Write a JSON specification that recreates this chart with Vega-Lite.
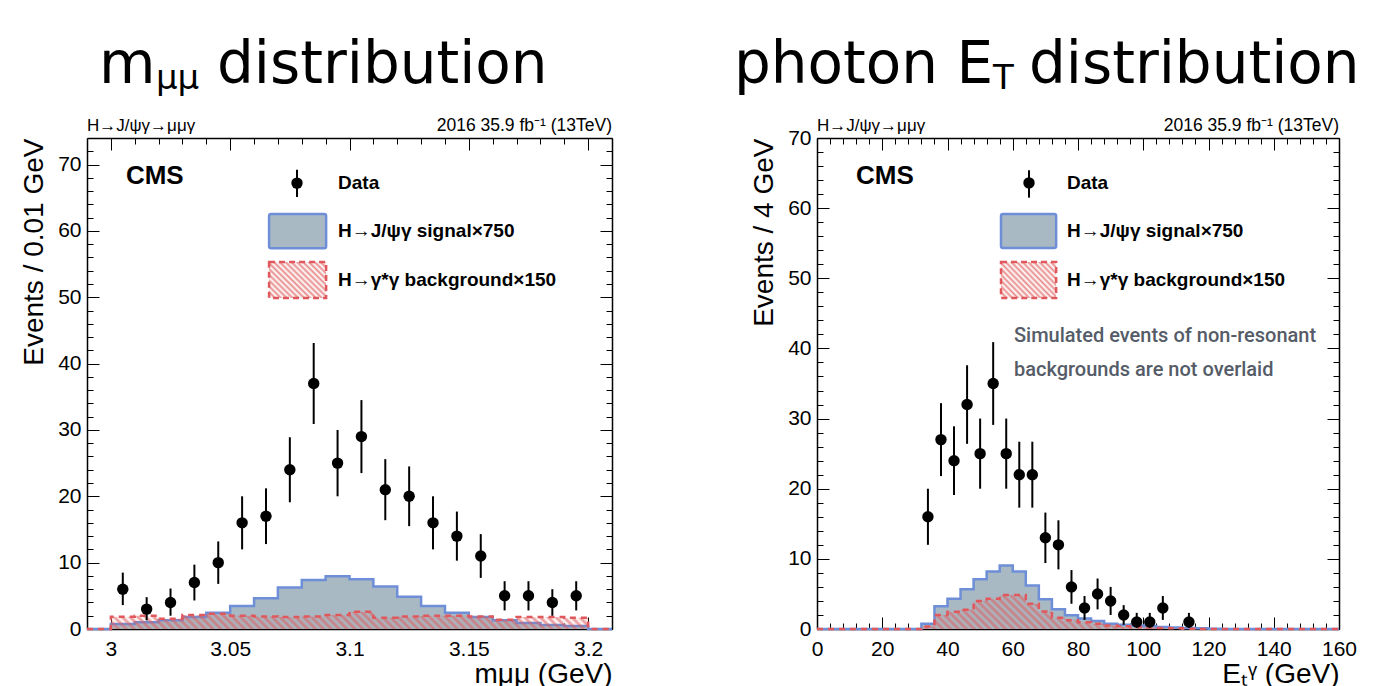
{
"$schema": "https://vega.github.io/schema/vega-lite/v6.json",
"background": "white",
"padding": {"left": 20, "top": 36, "right": 5, "bottom": 5},
"spacing": 117,
"config": {
  "view": {"stroke": null},
  "axis": {"grid": false, "tickColor": "#000000", "tickWidth": 1, "domainColor": "#000000", "domainWidth": 1.5, "labelColor": "#000000", "labelFont": "Liberation Sans", "labelFontSize": 21, "labelFlush": false, "labelOverlap": false, "titleColor": "#000000", "titleFont": "Liberation Sans", "titleFontSize": 28, "titleFontWeight": "normal"},
  "text": {"font": "Liberation Sans", "color": "#000000"}
},
"datasets": {
  "m_hist": [
    {"edge": 2.99, "signal": 0, "background": 0},
    {"edge": 3.00, "signal": 0.75, "background": 1.85},
    {"edge": 3.01, "signal": 1.0, "background": 2.0},
    {"edge": 3.02, "signal": 1.3, "background": 1.55},
    {"edge": 3.03, "signal": 1.8, "background": 2.1},
    {"edge": 3.04, "signal": 2.45, "background": 2.3},
    {"edge": 3.05, "signal": 3.45, "background": 2.0},
    {"edge": 3.06, "signal": 4.65, "background": 1.9},
    {"edge": 3.07, "signal": 6.25, "background": 1.8},
    {"edge": 3.08, "signal": 7.4, "background": 1.9},
    {"edge": 3.09, "signal": 7.95, "background": 2.1},
    {"edge": 3.10, "signal": 7.5, "background": 2.6},
    {"edge": 3.11, "signal": 6.4, "background": 1.7},
    {"edge": 3.12, "signal": 4.85, "background": 1.9},
    {"edge": 3.13, "signal": 3.45, "background": 2.0},
    {"edge": 3.14, "signal": 2.45, "background": 2.0},
    {"edge": 3.15, "signal": 1.8, "background": 1.9},
    {"edge": 3.16, "signal": 1.3, "background": 1.4},
    {"edge": 3.17, "signal": 0.9, "background": 1.8},
    {"edge": 3.18, "signal": 0.6, "background": 1.8},
    {"edge": 3.19, "signal": 0.45, "background": 1.7},
    {"edge": 3.20, "signal": 0, "background": 0},
    {"edge": 3.21, "signal": 0, "background": 0}
  ],
  "m_data": [
    {"x": 3.005, "n": 6, "lo": 3.6, "hi": 8.5},
    {"x": 3.015, "n": 3, "lo": 1.3, "hi": 4.8},
    {"x": 3.025, "n": 4, "lo": 2.0, "hi": 6.1},
    {"x": 3.035, "n": 7, "lo": 4.3, "hi": 9.7},
    {"x": 3.045, "n": 10, "lo": 6.8, "hi": 13.2},
    {"x": 3.055, "n": 16, "lo": 12.0, "hi": 20.0},
    {"x": 3.065, "n": 17, "lo": 12.8, "hi": 21.2},
    {"x": 3.075, "n": 24, "lo": 19.1, "hi": 28.9},
    {"x": 3.085, "n": 37, "lo": 30.9, "hi": 43.1},
    {"x": 3.095, "n": 25, "lo": 20.0, "hi": 30.0},
    {"x": 3.105, "n": 29, "lo": 23.5, "hi": 34.5},
    {"x": 3.115, "n": 21, "lo": 16.4, "hi": 25.6},
    {"x": 3.125, "n": 20, "lo": 15.5, "hi": 24.5},
    {"x": 3.135, "n": 16, "lo": 12.0, "hi": 20.0},
    {"x": 3.145, "n": 14, "lo": 10.3, "hi": 17.7},
    {"x": 3.155, "n": 11, "lo": 7.7, "hi": 14.3},
    {"x": 3.165, "n": 5, "lo": 2.8, "hi": 7.2},
    {"x": 3.175, "n": 5, "lo": 2.8, "hi": 7.2},
    {"x": 3.185, "n": 4, "lo": 2.0, "hi": 6.0},
    {"x": 3.195, "n": 5, "lo": 2.8, "hi": 7.2}
  ],
  "e_hist": [
    {"edge": 0, "signal": 0, "background": 0},
    {"edge": 4, "signal": 0, "background": 0},
    {"edge": 8, "signal": 0, "background": 0},
    {"edge": 12, "signal": 0, "background": 0},
    {"edge": 16, "signal": 0, "background": 0},
    {"edge": 20, "signal": 0, "background": 0},
    {"edge": 24, "signal": 0, "background": 0},
    {"edge": 28, "signal": 0, "background": 0},
    {"edge": 32, "signal": 0.75, "background": 0.35},
    {"edge": 36, "signal": 3.25, "background": 2.0},
    {"edge": 40, "signal": 4.3, "background": 2.45},
    {"edge": 44, "signal": 5.65, "background": 2.75},
    {"edge": 48, "signal": 7.1, "background": 4.0},
    {"edge": 52, "signal": 8.2, "background": 4.3},
    {"edge": 56, "signal": 9.05, "background": 4.85},
    {"edge": 60, "signal": 8.2, "background": 4.85},
    {"edge": 64, "signal": 6.2, "background": 3.6},
    {"edge": 68, "signal": 4.25, "background": 2.5},
    {"edge": 72, "signal": 2.8, "background": 1.6},
    {"edge": 76, "signal": 1.95, "background": 1.25},
    {"edge": 80, "signal": 1.5, "background": 0.95},
    {"edge": 84, "signal": 1.15, "background": 0.75},
    {"edge": 88, "signal": 0.75, "background": 0.5},
    {"edge": 92, "signal": 0.6, "background": 0.4},
    {"edge": 96, "signal": 0.5, "background": 0.3},
    {"edge": 100, "signal": 0.42, "background": 0.2},
    {"edge": 104, "signal": 0.3, "background": 0.15},
    {"edge": 108, "signal": 0.22, "background": 0.1},
    {"edge": 112, "signal": 0.15, "background": 0.05},
    {"edge": 116, "signal": 0.1, "background": 0},
    {"edge": 120, "signal": 0.05, "background": 0},
    {"edge": 124, "signal": 0, "background": 0},
    {"edge": 128, "signal": 0, "background": 0},
    {"edge": 132, "signal": 0, "background": 0},
    {"edge": 136, "signal": 0, "background": 0},
    {"edge": 140, "signal": 0, "background": 0},
    {"edge": 144, "signal": 0, "background": 0},
    {"edge": 148, "signal": 0, "background": 0},
    {"edge": 152, "signal": 0, "background": 0},
    {"edge": 156, "signal": 0, "background": 0},
    {"edge": 160, "signal": 0, "background": 0}
  ],
  "e_data": [
    {"x": 34, "n": 16, "lo": 12.0, "hi": 20.0},
    {"x": 38, "n": 27, "lo": 21.8, "hi": 32.2},
    {"x": 42, "n": 24, "lo": 19.1, "hi": 28.9},
    {"x": 46, "n": 32, "lo": 26.4, "hi": 37.6},
    {"x": 50, "n": 25, "lo": 20.0, "hi": 30.0},
    {"x": 54, "n": 35, "lo": 29.1, "hi": 40.9},
    {"x": 58, "n": 25, "lo": 20.0, "hi": 30.0},
    {"x": 62, "n": 22, "lo": 17.3, "hi": 26.7},
    {"x": 66, "n": 22, "lo": 17.3, "hi": 26.7},
    {"x": 70, "n": 13, "lo": 9.4, "hi": 16.6},
    {"x": 74, "n": 12, "lo": 8.5, "hi": 15.5},
    {"x": 78, "n": 6, "lo": 3.6, "hi": 8.4},
    {"x": 82, "n": 3, "lo": 1.3, "hi": 4.7},
    {"x": 86, "n": 5, "lo": 2.8, "hi": 7.2},
    {"x": 90, "n": 4, "lo": 2.0, "hi": 6.0},
    {"x": 94, "n": 2, "lo": 0.6, "hi": 3.4},
    {"x": 98, "n": 1, "lo": 0.2, "hi": 2.3},
    {"x": 102, "n": 1, "lo": 0.2, "hi": 2.3},
    {"x": 106, "n": 3, "lo": 1.3, "hi": 4.7},
    {"x": 114, "n": 1, "lo": 0.2, "hi": 2.3}
  ]
},
"hconcat": [
{
  "width": 525, "height": 491,
  "resolve": {"axis": {"x": "independent", "y": "independent"}},
  "layer": [
    {"data": {"name": "m_hist"}, "mark": {"type": "area", "interpolate": "step-after", "color": "#a9b9c4", "opacity": 1},
     "encoding": {
       "x": {"field": "edge", "type": "quantitative", "scale": {"domain": [2.99, 3.21], "nice": false, "zero": false},
             "axis": {"orient": "bottom", "values": [3, 3.05, 3.1, 3.15, 3.2], "format": "~g", "tickSize": -12, "labelPadding": 21, "title": "mμμ (GeV)", "titleAnchor": "end", "titlePadding": 1}},
       "y": {"field": "signal", "type": "quantitative", "scale": {"domain": [0, 74], "nice": false, "zero": false},
             "axis": {"orient": "left", "values": [0, 10, 20, 30, 40, 50, 60, 70], "tickSize": -12, "labelPadding": 18, "title": "Events / 0.01 GeV", "titleAnchor": "end", "titlePadding": 9}}}},
    {"data": {"name": "m_hist"}, "mark": {"type": "line", "interpolate": "step-after", "color": "#6e8fd8", "strokeWidth": 2.5},
     "encoding": {
       "x": {"field": "edge", "type": "quantitative", "scale": {"domain": [2.99, 3.21], "nice": false, "zero": false},
             "axis": {"orient": "bottom", "values": [2.99, 3, 3.01, 3.02, 3.03, 3.04, 3.05, 3.06, 3.07, 3.08, 3.09, 3.1, 3.11, 3.12, 3.13, 3.14, 3.15, 3.16, 3.17, 3.18, 3.19, 3.2, 3.21], "tickSize": -6, "labels": false, "domain": false, "title": null}},
       "y": {"field": "signal", "type": "quantitative", "scale": {"domain": [0, 74], "nice": false, "zero": false},
             "axis": {"orient": "left", "values": [0, 2, 4, 6, 8, 10, 12, 14, 16, 18, 20, 22, 24, 26, 28, 30, 32, 34, 36, 38, 40, 42, 44, 46, 48, 50, 52, 54, 56, 58, 60, 62, 64, 66, 68, 70, 72], "tickSize": -6, "labels": false, "domain": false, "title": null}}}},
    {"data": {"name": "m_hist"}, "mark": {"type": "area", "interpolate": "step-after", "fill": {"gradient": "linear", "x1": 0, "y1": 1, "x2": 1, "y2": 0.967, "stops": [
{"offset":0,"color":"rgba(222,92,92,0.65)"},{"offset":0.0075,"color":"rgba(222,92,92,0)"},
{"offset":0.015,"color":"rgba(222,92,92,0.65)"},{"offset":0.0225,"color":"rgba(222,92,92,0)"},
{"offset":0.03,"color":"rgba(222,92,92,0.65)"},{"offset":0.0375,"color":"rgba(222,92,92,0)"},
{"offset":0.045,"color":"rgba(222,92,92,0.65)"},{"offset":0.0525,"color":"rgba(222,92,92,0)"},
{"offset":0.06,"color":"rgba(222,92,92,0.65)"},{"offset":0.0675,"color":"rgba(222,92,92,0)"},
{"offset":0.075,"color":"rgba(222,92,92,0.65)"},{"offset":0.0825,"color":"rgba(222,92,92,0)"},
{"offset":0.09,"color":"rgba(222,92,92,0.65)"},{"offset":0.0975,"color":"rgba(222,92,92,0)"},
{"offset":0.105,"color":"rgba(222,92,92,0.65)"},{"offset":0.1125,"color":"rgba(222,92,92,0)"},
{"offset":0.12,"color":"rgba(222,92,92,0.65)"},{"offset":0.1275,"color":"rgba(222,92,92,0)"},
{"offset":0.135,"color":"rgba(222,92,92,0.65)"},{"offset":0.1425,"color":"rgba(222,92,92,0)"},
{"offset":0.15,"color":"rgba(222,92,92,0.65)"},{"offset":0.1575,"color":"rgba(222,92,92,0)"},
{"offset":0.165,"color":"rgba(222,92,92,0.65)"},{"offset":0.1725,"color":"rgba(222,92,92,0)"},
{"offset":0.18,"color":"rgba(222,92,92,0.65)"},{"offset":0.1875,"color":"rgba(222,92,92,0)"},
{"offset":0.195,"color":"rgba(222,92,92,0.65)"},{"offset":0.2025,"color":"rgba(222,92,92,0)"},
{"offset":0.21,"color":"rgba(222,92,92,0.65)"},{"offset":0.2175,"color":"rgba(222,92,92,0)"},
{"offset":0.225,"color":"rgba(222,92,92,0.65)"},{"offset":0.2325,"color":"rgba(222,92,92,0)"},
{"offset":0.24,"color":"rgba(222,92,92,0.65)"},{"offset":0.2475,"color":"rgba(222,92,92,0)"},
{"offset":0.255,"color":"rgba(222,92,92,0.65)"},{"offset":0.2625,"color":"rgba(222,92,92,0)"},
{"offset":0.27,"color":"rgba(222,92,92,0.65)"},{"offset":0.2775,"color":"rgba(222,92,92,0)"},
{"offset":0.285,"color":"rgba(222,92,92,0.65)"},{"offset":0.2925,"color":"rgba(222,92,92,0)"},
{"offset":0.3,"color":"rgba(222,92,92,0.65)"},{"offset":0.3075,"color":"rgba(222,92,92,0)"},
{"offset":0.315,"color":"rgba(222,92,92,0.65)"},{"offset":0.3225,"color":"rgba(222,92,92,0)"},
{"offset":0.33,"color":"rgba(222,92,92,0.65)"},{"offset":0.3375,"color":"rgba(222,92,92,0)"},
{"offset":0.345,"color":"rgba(222,92,92,0.65)"},{"offset":0.3525,"color":"rgba(222,92,92,0)"},
{"offset":0.36,"color":"rgba(222,92,92,0.65)"},{"offset":0.3675,"color":"rgba(222,92,92,0)"},
{"offset":0.375,"color":"rgba(222,92,92,0.65)"},{"offset":0.3825,"color":"rgba(222,92,92,0)"},
{"offset":0.39,"color":"rgba(222,92,92,0.65)"},{"offset":0.3975,"color":"rgba(222,92,92,0)"},
{"offset":0.405,"color":"rgba(222,92,92,0.65)"},{"offset":0.4125,"color":"rgba(222,92,92,0)"},
{"offset":0.42,"color":"rgba(222,92,92,0.65)"},{"offset":0.4275,"color":"rgba(222,92,92,0)"},
{"offset":0.435,"color":"rgba(222,92,92,0.65)"},{"offset":0.4425,"color":"rgba(222,92,92,0)"},
{"offset":0.45,"color":"rgba(222,92,92,0.65)"},{"offset":0.4575,"color":"rgba(222,92,92,0)"},
{"offset":0.465,"color":"rgba(222,92,92,0.65)"},{"offset":0.4725,"color":"rgba(222,92,92,0)"},
{"offset":0.48,"color":"rgba(222,92,92,0.65)"},{"offset":0.4875,"color":"rgba(222,92,92,0)"},
{"offset":0.495,"color":"rgba(222,92,92,0.65)"},{"offset":0.5025,"color":"rgba(222,92,92,0)"},
{"offset":0.51,"color":"rgba(222,92,92,0.65)"},{"offset":0.5175,"color":"rgba(222,92,92,0)"},
{"offset":0.525,"color":"rgba(222,92,92,0.65)"},{"offset":0.5325,"color":"rgba(222,92,92,0)"},
{"offset":0.54,"color":"rgba(222,92,92,0.65)"},{"offset":0.5475,"color":"rgba(222,92,92,0)"},
{"offset":0.555,"color":"rgba(222,92,92,0.65)"},{"offset":0.5625,"color":"rgba(222,92,92,0)"},
{"offset":0.57,"color":"rgba(222,92,92,0.65)"},{"offset":0.5775,"color":"rgba(222,92,92,0)"},
{"offset":0.585,"color":"rgba(222,92,92,0.65)"},{"offset":0.5925,"color":"rgba(222,92,92,0)"},
{"offset":0.6,"color":"rgba(222,92,92,0.65)"},{"offset":0.6075,"color":"rgba(222,92,92,0)"},
{"offset":0.615,"color":"rgba(222,92,92,0.65)"},{"offset":0.6225,"color":"rgba(222,92,92,0)"},
{"offset":0.63,"color":"rgba(222,92,92,0.65)"},{"offset":0.6375,"color":"rgba(222,92,92,0)"},
{"offset":0.645,"color":"rgba(222,92,92,0.65)"},{"offset":0.6525,"color":"rgba(222,92,92,0)"},
{"offset":0.66,"color":"rgba(222,92,92,0.65)"},{"offset":0.6675,"color":"rgba(222,92,92,0)"},
{"offset":0.675,"color":"rgba(222,92,92,0.65)"},{"offset":0.6825,"color":"rgba(222,92,92,0)"},
{"offset":0.69,"color":"rgba(222,92,92,0.65)"},{"offset":0.6975,"color":"rgba(222,92,92,0)"},
{"offset":0.705,"color":"rgba(222,92,92,0.65)"},{"offset":0.7125,"color":"rgba(222,92,92,0)"},
{"offset":0.72,"color":"rgba(222,92,92,0.65)"},{"offset":0.7275,"color":"rgba(222,92,92,0)"},
{"offset":0.735,"color":"rgba(222,92,92,0.65)"},{"offset":0.7425,"color":"rgba(222,92,92,0)"},
{"offset":0.75,"color":"rgba(222,92,92,0.65)"},{"offset":0.7575,"color":"rgba(222,92,92,0)"},
{"offset":0.765,"color":"rgba(222,92,92,0.65)"},{"offset":0.7725,"color":"rgba(222,92,92,0)"},
{"offset":0.78,"color":"rgba(222,92,92,0.65)"},{"offset":0.7875,"color":"rgba(222,92,92,0)"},
{"offset":0.795,"color":"rgba(222,92,92,0.65)"},{"offset":0.8025,"color":"rgba(222,92,92,0)"},
{"offset":0.81,"color":"rgba(222,92,92,0.65)"},{"offset":0.8175,"color":"rgba(222,92,92,0)"},
{"offset":0.825,"color":"rgba(222,92,92,0.65)"},{"offset":0.8325,"color":"rgba(222,92,92,0)"},
{"offset":0.84,"color":"rgba(222,92,92,0.65)"},{"offset":0.8475,"color":"rgba(222,92,92,0)"},
{"offset":0.855,"color":"rgba(222,92,92,0.65)"},{"offset":0.8625,"color":"rgba(222,92,92,0)"},
{"offset":0.87,"color":"rgba(222,92,92,0.65)"},{"offset":0.8775,"color":"rgba(222,92,92,0)"},
{"offset":0.885,"color":"rgba(222,92,92,0.65)"},{"offset":0.8925,"color":"rgba(222,92,92,0)"},
{"offset":0.9,"color":"rgba(222,92,92,0.65)"},{"offset":0.9075,"color":"rgba(222,92,92,0)"},
{"offset":0.915,"color":"rgba(222,92,92,0.65)"},{"offset":0.9225,"color":"rgba(222,92,92,0)"},
{"offset":0.93,"color":"rgba(222,92,92,0.65)"},{"offset":0.9375,"color":"rgba(222,92,92,0)"},
{"offset":0.945,"color":"rgba(222,92,92,0.65)"},{"offset":0.9525,"color":"rgba(222,92,92,0)"},
{"offset":0.96,"color":"rgba(222,92,92,0.65)"},{"offset":0.9675,"color":"rgba(222,92,92,0)"},
{"offset":0.975,"color":"rgba(222,92,92,0.65)"},{"offset":0.9825,"color":"rgba(222,92,92,0)"},
{"offset":0.99,"color":"rgba(222,92,92,0.65)"},{"offset":0.9975,"color":"rgba(222,92,92,0)"},
{"offset":1,"color":"rgba(222,92,92,0.65)"}]}},
     "encoding": {
       "x": {"field": "edge", "type": "quantitative", "scale": {"domain": [2.99, 3.21], "nice": false, "zero": false},
             "axis": {"orient": "top", "values": [3, 3.05, 3.1, 3.15, 3.2], "tickSize": -12, "labels": false, "title": null}},
       "y": {"field": "background", "type": "quantitative", "scale": {"domain": [0, 74], "nice": false, "zero": false},
             "axis": {"orient": "right", "values": [0, 10, 20, 30, 40, 50, 60, 70], "tickSize": -12, "labels": false, "title": null}}}},
    {"data": {"name": "m_hist"}, "mark": {"type": "line", "interpolate": "step-after", "color": "#e0585c", "strokeWidth": 2.5, "strokeDash": [6, 5]},
     "encoding": {
       "x": {"field": "edge", "type": "quantitative", "scale": {"domain": [2.99, 3.21], "nice": false, "zero": false},
             "axis": {"orient": "top", "values": [2.99, 3, 3.01, 3.02, 3.03, 3.04, 3.05, 3.06, 3.07, 3.08, 3.09, 3.1, 3.11, 3.12, 3.13, 3.14, 3.15, 3.16, 3.17, 3.18, 3.19, 3.2, 3.21], "tickSize": -6, "labels": false, "domain": false, "title": null}},
       "y": {"field": "background", "type": "quantitative", "scale": {"domain": [0, 74], "nice": false, "zero": false},
             "axis": {"orient": "right", "values": [0, 2, 4, 6, 8, 10, 12, 14, 16, 18, 20, 22, 24, 26, 28, 30, 32, 34, 36, 38, 40, 42, 44, 46, 48, 50, 52, 54, 56, 58, 60, 62, 64, 66, 68, 70, 72], "tickSize": -6, "labels": false, "domain": false, "title": null}}}},
    {"data": {"name": "m_data"}, "mark": {"type": "rule", "color": "#000000", "strokeWidth": 2},
     "encoding": {
       "x": {"field": "x", "type": "quantitative", "scale": {"domain": [2.99, 3.21], "nice": false, "zero": false}, "axis": null},
       "y": {"field": "lo", "type": "quantitative", "scale": {"domain": [0, 74], "nice": false, "zero": false}, "axis": null},
       "y2": {"field": "hi"}}},
    {"data": {"name": "m_data"}, "mark": {"type": "circle", "color": "#000000", "opacity": 1, "size": 130},
     "encoding": {
       "x": {"field": "x", "type": "quantitative", "scale": {"domain": [2.99, 3.21], "nice": false, "zero": false}, "axis": null},
       "y": {"field": "n", "type": "quantitative", "scale": {"domain": [0, 74], "nice": false, "zero": false}, "axis": null}}},
    {"data": {"values": [{}]}, "mark": {"type": "text", "text": "m", "font": "DejaVu Sans", "fontSize": 58, "align": "left", "baseline": "alphabetic"},
     "encoding": {"x": {"datum": 2.995, "type": "quantitative", "axis": null}, "y": {"datum": 82.3, "type": "quantitative", "axis": null}}},
    {"data": {"values": [{}]}, "mark": {"type": "text", "text": "μμ", "font": "DejaVu Sans", "fontSize": 34, "align": "left", "baseline": "alphabetic"},
     "encoding": {"x": {"datum": 3.0189, "type": "quantitative", "axis": null}, "y": {"datum": 81.4, "type": "quantitative", "axis": null}}},
    {"data": {"values": [{}]}, "mark": {"type": "text", "text": "distribution", "font": "DejaVu Sans", "fontSize": 58, "align": "left", "baseline": "alphabetic"},
     "encoding": {"x": {"datum": 3.0445, "type": "quantitative", "axis": null}, "y": {"datum": 82.3, "type": "quantitative", "axis": null}}},
    {"data": {"values": [{}]}, "mark": {"type": "text", "text": "H→J/ψγ→μμγ", "fontSize": 17, "align": "left", "baseline": "alphabetic", "dy": -7},
     "encoding": {"x": {"datum": 2.99, "type": "quantitative", "axis": null}, "y": {"datum": 74, "type": "quantitative", "axis": null}}},
    {"data": {"values": [{}]}, "mark": {"type": "text", "text": "2016 35.9 fb⁻¹ (13TeV)", "fontSize": 17.5, "align": "right", "baseline": "alphabetic", "dy": -7},
     "encoding": {"x": {"datum": 3.21, "type": "quantitative", "axis": null}, "y": {"datum": 74, "type": "quantitative", "axis": null}}},
    {"data": {"values": [{}]}, "mark": {"type": "text", "text": "CMS", "fontSize": 26, "fontWeight": "bold", "align": "left", "baseline": "alphabetic"},
     "encoding": {"x": {"datum": 3.0063, "type": "quantitative", "axis": null}, "y": {"datum": 67.07, "type": "quantitative", "axis": null}}},
    {"data": {"values": [{}]}, "mark": {"type": "rule", "color": "#000000", "strokeWidth": 2},
     "encoding": {"x": {"datum": 3.078, "type": "quantitative", "axis": null}, "y": {"datum": 65.1, "type": "quantitative", "axis": null}, "y2": {"datum": 69.2}}},
    {"data": {"values": [{}]}, "mark": {"type": "circle", "color": "#000000", "opacity": 1, "size": 130},
     "encoding": {"x": {"datum": 3.078, "type": "quantitative", "axis": null}, "y": {"datum": 67.2, "type": "quantitative", "axis": null}}},
    {"data": {"values": [{}]}, "mark": {"type": "rect", "fill": "#a9b9c4", "stroke": "#6e8fd8", "strokeWidth": 2.5, "cornerRadius": 2},
     "encoding": {"x": {"datum": 3.0663, "type": "quantitative", "axis": null}, "x2": {"datum": 3.0902}, "y": {"datum": 57.4, "type": "quantitative", "axis": null}, "y2": {"datum": 62.55}}},
    {"data": {"values": [{}]}, "mark": {"type": "rect", "stroke": "#e0585c", "strokeWidth": 2.5, "strokeDash": [6, 4], "fill": {"gradient": "linear", "x1": 0, "y1": 1, "x2": 1.17, "y2": 0.26, "stops": [
{"offset":0,"color":"rgba(222,92,92,0.7)"},{"offset":0.03125,"color":"rgba(222,92,92,0)"},
{"offset":0.0625,"color":"rgba(222,92,92,0.7)"},{"offset":0.09375,"color":"rgba(222,92,92,0)"},
{"offset":0.125,"color":"rgba(222,92,92,0.7)"},{"offset":0.15625,"color":"rgba(222,92,92,0)"},
{"offset":0.1875,"color":"rgba(222,92,92,0.7)"},{"offset":0.21875,"color":"rgba(222,92,92,0)"},
{"offset":0.25,"color":"rgba(222,92,92,0.7)"},{"offset":0.28125,"color":"rgba(222,92,92,0)"},
{"offset":0.3125,"color":"rgba(222,92,92,0.7)"},{"offset":0.34375,"color":"rgba(222,92,92,0)"},
{"offset":0.375,"color":"rgba(222,92,92,0.7)"},{"offset":0.40625,"color":"rgba(222,92,92,0)"},
{"offset":0.4375,"color":"rgba(222,92,92,0.7)"},{"offset":0.46875,"color":"rgba(222,92,92,0)"},
{"offset":0.5,"color":"rgba(222,92,92,0.7)"},{"offset":0.53125,"color":"rgba(222,92,92,0)"},
{"offset":0.5625,"color":"rgba(222,92,92,0.7)"},{"offset":0.59375,"color":"rgba(222,92,92,0)"},
{"offset":0.625,"color":"rgba(222,92,92,0.7)"},{"offset":0.65625,"color":"rgba(222,92,92,0)"},
{"offset":0.6875,"color":"rgba(222,92,92,0.7)"},{"offset":0.71875,"color":"rgba(222,92,92,0)"},
{"offset":0.75,"color":"rgba(222,92,92,0.7)"},{"offset":0.78125,"color":"rgba(222,92,92,0)"},
{"offset":0.8125,"color":"rgba(222,92,92,0.7)"},{"offset":0.84375,"color":"rgba(222,92,92,0)"},
{"offset":0.875,"color":"rgba(222,92,92,0.7)"},{"offset":0.90625,"color":"rgba(222,92,92,0)"},
{"offset":0.9375,"color":"rgba(222,92,92,0.7)"},{"offset":0.96875,"color":"rgba(222,92,92,0)"},
{"offset":1,"color":"rgba(222,92,92,0.7)"}]}},
     "encoding": {"x": {"datum": 3.0663, "type": "quantitative", "axis": null}, "x2": {"datum": 3.0902}, "y": {"datum": 49.9, "type": "quantitative", "axis": null}, "y2": {"datum": 55.3}}},
    {"data": {"values": [{}]}, "mark": {"type": "text", "text": "Data", "fontSize": 19, "fontWeight": "bold", "align": "left", "baseline": "middle"},
     "encoding": {"x": {"datum": 3.0952, "type": "quantitative", "axis": null}, "y": {"datum": 67.2, "type": "quantitative", "axis": null}}},
    {"data": {"values": [{}]}, "mark": {"type": "text", "text": "H→J/ψγ signal×750", "fontSize": 19, "fontWeight": "bold", "align": "left", "baseline": "middle"},
     "encoding": {"x": {"datum": 3.0952, "type": "quantitative", "axis": null}, "y": {"datum": 60.0, "type": "quantitative", "axis": null}}},
    {"data": {"values": [{}]}, "mark": {"type": "text", "text": "H→γ*γ background×150", "fontSize": 19, "fontWeight": "bold", "align": "left", "baseline": "middle"},
     "encoding": {"x": {"datum": 3.0952, "type": "quantitative", "axis": null}, "y": {"datum": 52.6, "type": "quantitative", "axis": null}}}
  ]
},
{
  "width": 522, "height": 491,
  "resolve": {"axis": {"x": "independent", "y": "independent"}},
  "layer": [
    {"data": {"name": "e_hist"}, "mark": {"type": "area", "interpolate": "step-after", "color": "#a9b9c4", "opacity": 1},
     "encoding": {
       "x": {"field": "edge", "type": "quantitative", "scale": {"domain": [0, 160], "nice": false, "zero": false},
             "axis": {"orient": "bottom", "values": [0, 20, 40, 60, 80, 100, 120, 140, 160], "tickSize": -12, "labelPadding": 21, "title": "Eₜᵞ (GeV)", "titleAnchor": "end", "titlePadding": 1}},
       "y": {"field": "signal", "type": "quantitative", "scale": {"domain": [0, 70], "nice": false, "zero": false},
             "axis": {"orient": "left", "values": [0, 10, 20, 30, 40, 50, 60, 70], "tickSize": -12, "labelPadding": 18, "title": "Events / 4 GeV", "titleAnchor": "end", "titlePadding": 9}}}},
    {"data": {"name": "e_hist"}, "mark": {"type": "line", "interpolate": "step-after", "color": "#6e8fd8", "strokeWidth": 2.5},
     "encoding": {
       "x": {"field": "edge", "type": "quantitative", "scale": {"domain": [0, 160], "nice": false, "zero": false},
             "axis": {"orient": "bottom", "values": [0, 4, 8, 12, 16, 20, 24, 28, 32, 36, 40, 44, 48, 52, 56, 60, 64, 68, 72, 76, 80, 84, 88, 92, 96, 100, 104, 108, 112, 116, 120, 124, 128, 132, 136, 140, 144, 148, 152, 156, 160], "tickSize": -6, "labels": false, "domain": false, "title": null}},
       "y": {"field": "signal", "type": "quantitative", "scale": {"domain": [0, 70], "nice": false, "zero": false},
             "axis": {"orient": "left", "values": [0, 2, 4, 6, 8, 10, 12, 14, 16, 18, 20, 22, 24, 26, 28, 30, 32, 34, 36, 38, 40, 42, 44, 46, 48, 50, 52, 54, 56, 58, 60, 62, 64, 66, 68, 70], "tickSize": -6, "labels": false, "domain": false, "title": null}}}},
    {"data": {"name": "e_hist"}, "mark": {"type": "area", "interpolate": "step-after", "fill": {"gradient": "linear", "x1": 0, "y1": 1, "x2": 1, "y2": 0.934, "stops": [
{"offset":0,"color":"rgba(222,92,92,0.65)"},{"offset":0.0075,"color":"rgba(222,92,92,0)"},
{"offset":0.015,"color":"rgba(222,92,92,0.65)"},{"offset":0.0225,"color":"rgba(222,92,92,0)"},
{"offset":0.03,"color":"rgba(222,92,92,0.65)"},{"offset":0.0375,"color":"rgba(222,92,92,0)"},
{"offset":0.045,"color":"rgba(222,92,92,0.65)"},{"offset":0.0525,"color":"rgba(222,92,92,0)"},
{"offset":0.06,"color":"rgba(222,92,92,0.65)"},{"offset":0.0675,"color":"rgba(222,92,92,0)"},
{"offset":0.075,"color":"rgba(222,92,92,0.65)"},{"offset":0.0825,"color":"rgba(222,92,92,0)"},
{"offset":0.09,"color":"rgba(222,92,92,0.65)"},{"offset":0.0975,"color":"rgba(222,92,92,0)"},
{"offset":0.105,"color":"rgba(222,92,92,0.65)"},{"offset":0.1125,"color":"rgba(222,92,92,0)"},
{"offset":0.12,"color":"rgba(222,92,92,0.65)"},{"offset":0.1275,"color":"rgba(222,92,92,0)"},
{"offset":0.135,"color":"rgba(222,92,92,0.65)"},{"offset":0.1425,"color":"rgba(222,92,92,0)"},
{"offset":0.15,"color":"rgba(222,92,92,0.65)"},{"offset":0.1575,"color":"rgba(222,92,92,0)"},
{"offset":0.165,"color":"rgba(222,92,92,0.65)"},{"offset":0.1725,"color":"rgba(222,92,92,0)"},
{"offset":0.18,"color":"rgba(222,92,92,0.65)"},{"offset":0.1875,"color":"rgba(222,92,92,0)"},
{"offset":0.195,"color":"rgba(222,92,92,0.65)"},{"offset":0.2025,"color":"rgba(222,92,92,0)"},
{"offset":0.21,"color":"rgba(222,92,92,0.65)"},{"offset":0.2175,"color":"rgba(222,92,92,0)"},
{"offset":0.225,"color":"rgba(222,92,92,0.65)"},{"offset":0.2325,"color":"rgba(222,92,92,0)"},
{"offset":0.24,"color":"rgba(222,92,92,0.65)"},{"offset":0.2475,"color":"rgba(222,92,92,0)"},
{"offset":0.255,"color":"rgba(222,92,92,0.65)"},{"offset":0.2625,"color":"rgba(222,92,92,0)"},
{"offset":0.27,"color":"rgba(222,92,92,0.65)"},{"offset":0.2775,"color":"rgba(222,92,92,0)"},
{"offset":0.285,"color":"rgba(222,92,92,0.65)"},{"offset":0.2925,"color":"rgba(222,92,92,0)"},
{"offset":0.3,"color":"rgba(222,92,92,0.65)"},{"offset":0.3075,"color":"rgba(222,92,92,0)"},
{"offset":0.315,"color":"rgba(222,92,92,0.65)"},{"offset":0.3225,"color":"rgba(222,92,92,0)"},
{"offset":0.33,"color":"rgba(222,92,92,0.65)"},{"offset":0.3375,"color":"rgba(222,92,92,0)"},
{"offset":0.345,"color":"rgba(222,92,92,0.65)"},{"offset":0.3525,"color":"rgba(222,92,92,0)"},
{"offset":0.36,"color":"rgba(222,92,92,0.65)"},{"offset":0.3675,"color":"rgba(222,92,92,0)"},
{"offset":0.375,"color":"rgba(222,92,92,0.65)"},{"offset":0.3825,"color":"rgba(222,92,92,0)"},
{"offset":0.39,"color":"rgba(222,92,92,0.65)"},{"offset":0.3975,"color":"rgba(222,92,92,0)"},
{"offset":0.405,"color":"rgba(222,92,92,0.65)"},{"offset":0.4125,"color":"rgba(222,92,92,0)"},
{"offset":0.42,"color":"rgba(222,92,92,0.65)"},{"offset":0.4275,"color":"rgba(222,92,92,0)"},
{"offset":0.435,"color":"rgba(222,92,92,0.65)"},{"offset":0.4425,"color":"rgba(222,92,92,0)"},
{"offset":0.45,"color":"rgba(222,92,92,0.65)"},{"offset":0.4575,"color":"rgba(222,92,92,0)"},
{"offset":0.465,"color":"rgba(222,92,92,0.65)"},{"offset":0.4725,"color":"rgba(222,92,92,0)"},
{"offset":0.48,"color":"rgba(222,92,92,0.65)"},{"offset":0.4875,"color":"rgba(222,92,92,0)"},
{"offset":0.495,"color":"rgba(222,92,92,0.65)"},{"offset":0.5025,"color":"rgba(222,92,92,0)"},
{"offset":0.51,"color":"rgba(222,92,92,0.65)"},{"offset":0.5175,"color":"rgba(222,92,92,0)"},
{"offset":0.525,"color":"rgba(222,92,92,0.65)"},{"offset":0.5325,"color":"rgba(222,92,92,0)"},
{"offset":0.54,"color":"rgba(222,92,92,0.65)"},{"offset":0.5475,"color":"rgba(222,92,92,0)"},
{"offset":0.555,"color":"rgba(222,92,92,0.65)"},{"offset":0.5625,"color":"rgba(222,92,92,0)"},
{"offset":0.57,"color":"rgba(222,92,92,0.65)"},{"offset":0.5775,"color":"rgba(222,92,92,0)"},
{"offset":0.585,"color":"rgba(222,92,92,0.65)"},{"offset":0.5925,"color":"rgba(222,92,92,0)"},
{"offset":0.6,"color":"rgba(222,92,92,0.65)"},{"offset":0.6075,"color":"rgba(222,92,92,0)"},
{"offset":0.615,"color":"rgba(222,92,92,0.65)"},{"offset":0.6225,"color":"rgba(222,92,92,0)"},
{"offset":0.63,"color":"rgba(222,92,92,0.65)"},{"offset":0.6375,"color":"rgba(222,92,92,0)"},
{"offset":0.645,"color":"rgba(222,92,92,0.65)"},{"offset":0.6525,"color":"rgba(222,92,92,0)"},
{"offset":0.66,"color":"rgba(222,92,92,0.65)"},{"offset":0.6675,"color":"rgba(222,92,92,0)"},
{"offset":0.675,"color":"rgba(222,92,92,0.65)"},{"offset":0.6825,"color":"rgba(222,92,92,0)"},
{"offset":0.69,"color":"rgba(222,92,92,0.65)"},{"offset":0.6975,"color":"rgba(222,92,92,0)"},
{"offset":0.705,"color":"rgba(222,92,92,0.65)"},{"offset":0.7125,"color":"rgba(222,92,92,0)"},
{"offset":0.72,"color":"rgba(222,92,92,0.65)"},{"offset":0.7275,"color":"rgba(222,92,92,0)"},
{"offset":0.735,"color":"rgba(222,92,92,0.65)"},{"offset":0.7425,"color":"rgba(222,92,92,0)"},
{"offset":0.75,"color":"rgba(222,92,92,0.65)"},{"offset":0.7575,"color":"rgba(222,92,92,0)"},
{"offset":0.765,"color":"rgba(222,92,92,0.65)"},{"offset":0.7725,"color":"rgba(222,92,92,0)"},
{"offset":0.78,"color":"rgba(222,92,92,0.65)"},{"offset":0.7875,"color":"rgba(222,92,92,0)"},
{"offset":0.795,"color":"rgba(222,92,92,0.65)"},{"offset":0.8025,"color":"rgba(222,92,92,0)"},
{"offset":0.81,"color":"rgba(222,92,92,0.65)"},{"offset":0.8175,"color":"rgba(222,92,92,0)"},
{"offset":0.825,"color":"rgba(222,92,92,0.65)"},{"offset":0.8325,"color":"rgba(222,92,92,0)"},
{"offset":0.84,"color":"rgba(222,92,92,0.65)"},{"offset":0.8475,"color":"rgba(222,92,92,0)"},
{"offset":0.855,"color":"rgba(222,92,92,0.65)"},{"offset":0.8625,"color":"rgba(222,92,92,0)"},
{"offset":0.87,"color":"rgba(222,92,92,0.65)"},{"offset":0.8775,"color":"rgba(222,92,92,0)"},
{"offset":0.885,"color":"rgba(222,92,92,0.65)"},{"offset":0.8925,"color":"rgba(222,92,92,0)"},
{"offset":0.9,"color":"rgba(222,92,92,0.65)"},{"offset":0.9075,"color":"rgba(222,92,92,0)"},
{"offset":0.915,"color":"rgba(222,92,92,0.65)"},{"offset":0.9225,"color":"rgba(222,92,92,0)"},
{"offset":0.93,"color":"rgba(222,92,92,0.65)"},{"offset":0.9375,"color":"rgba(222,92,92,0)"},
{"offset":0.945,"color":"rgba(222,92,92,0.65)"},{"offset":0.9525,"color":"rgba(222,92,92,0)"},
{"offset":0.96,"color":"rgba(222,92,92,0.65)"},{"offset":0.9675,"color":"rgba(222,92,92,0)"},
{"offset":0.975,"color":"rgba(222,92,92,0.65)"},{"offset":0.9825,"color":"rgba(222,92,92,0)"},
{"offset":0.99,"color":"rgba(222,92,92,0.65)"},{"offset":0.9975,"color":"rgba(222,92,92,0)"},
{"offset":1,"color":"rgba(222,92,92,0.65)"}]}},
     "encoding": {
       "x": {"field": "edge", "type": "quantitative", "scale": {"domain": [0, 160], "nice": false, "zero": false},
             "axis": {"orient": "top", "values": [0, 20, 40, 60, 80, 100, 120, 140, 160], "tickSize": -12, "labels": false, "title": null}},
       "y": {"field": "background", "type": "quantitative", "scale": {"domain": [0, 70], "nice": false, "zero": false},
             "axis": {"orient": "right", "values": [0, 10, 20, 30, 40, 50, 60, 70], "tickSize": -12, "labels": false, "title": null}}}},
    {"data": {"name": "e_hist"}, "mark": {"type": "line", "interpolate": "step-after", "color": "#e0585c", "strokeWidth": 2.5, "strokeDash": [6, 5]},
     "encoding": {
       "x": {"field": "edge", "type": "quantitative", "scale": {"domain": [0, 160], "nice": false, "zero": false},
             "axis": {"orient": "top", "values": [0, 4, 8, 12, 16, 20, 24, 28, 32, 36, 40, 44, 48, 52, 56, 60, 64, 68, 72, 76, 80, 84, 88, 92, 96, 100, 104, 108, 112, 116, 120, 124, 128, 132, 136, 140, 144, 148, 152, 156, 160], "tickSize": -6, "labels": false, "domain": false, "title": null}},
       "y": {"field": "background", "type": "quantitative", "scale": {"domain": [0, 70], "nice": false, "zero": false},
             "axis": {"orient": "right", "values": [0, 2, 4, 6, 8, 10, 12, 14, 16, 18, 20, 22, 24, 26, 28, 30, 32, 34, 36, 38, 40, 42, 44, 46, 48, 50, 52, 54, 56, 58, 60, 62, 64, 66, 68, 70], "tickSize": -6, "labels": false, "domain": false, "title": null}}}},
    {"data": {"name": "e_data"}, "mark": {"type": "rule", "color": "#000000", "strokeWidth": 2},
     "encoding": {
       "x": {"field": "x", "type": "quantitative", "scale": {"domain": [0, 160], "nice": false, "zero": false}, "axis": null},
       "y": {"field": "lo", "type": "quantitative", "scale": {"domain": [0, 70], "nice": false, "zero": false}, "axis": null},
       "y2": {"field": "hi"}}},
    {"data": {"name": "e_data"}, "mark": {"type": "circle", "color": "#000000", "opacity": 1, "size": 130},
     "encoding": {
       "x": {"field": "x", "type": "quantitative", "scale": {"domain": [0, 160], "nice": false, "zero": false}, "axis": null},
       "y": {"field": "n", "type": "quantitative", "scale": {"domain": [0, 70], "nice": false, "zero": false}, "axis": null}}},
    {"data": {"values": [{}]}, "mark": {"type": "text", "text": "photon E", "font": "DejaVu Sans", "fontSize": 58, "align": "left", "baseline": "alphabetic"},
     "encoding": {"x": {"datum": -25.44, "type": "quantitative", "axis": null}, "y": {"datum": 77.85, "type": "quantitative", "axis": null}}},
    {"data": {"values": [{}]}, "mark": {"type": "text", "text": "T", "font": "DejaVu Sans", "fontSize": 34, "align": "left", "baseline": "alphabetic"},
     "encoding": {"x": {"datum": 53.95, "type": "quantitative", "axis": null}, "y": {"datum": 77.0, "type": "quantitative", "axis": null}}},
    {"data": {"values": [{}]}, "mark": {"type": "text", "text": "distribution", "font": "DejaVu Sans", "fontSize": 58, "align": "left", "baseline": "alphabetic"},
     "encoding": {"x": {"datum": 64.98, "type": "quantitative", "axis": null}, "y": {"datum": 77.85, "type": "quantitative", "axis": null}}},
    {"data": {"values": [{}]}, "mark": {"type": "text", "text": "H→J/ψγ→μμγ", "fontSize": 17, "align": "left", "baseline": "alphabetic", "dy": -7},
     "encoding": {"x": {"datum": 0, "type": "quantitative", "axis": null}, "y": {"datum": 70, "type": "quantitative", "axis": null}}},
    {"data": {"values": [{}]}, "mark": {"type": "text", "text": "2016 35.9 fb⁻¹ (13TeV)", "fontSize": 17.5, "align": "right", "baseline": "alphabetic", "dy": -7},
     "encoding": {"x": {"datum": 160, "type": "quantitative", "axis": null}, "y": {"datum": 70, "type": "quantitative", "axis": null}}},
    {"data": {"values": [{}]}, "mark": {"type": "text", "text": "CMS", "fontSize": 26, "fontWeight": "bold", "align": "left", "baseline": "alphabetic"},
     "encoding": {"x": {"datum": 11.95, "type": "quantitative", "axis": null}, "y": {"datum": 63.44, "type": "quantitative", "axis": null}}},
    {"data": {"values": [{}]}, "mark": {"type": "rule", "color": "#000000", "strokeWidth": 2},
     "encoding": {"x": {"datum": 64.98, "type": "quantitative", "axis": null}, "y": {"datum": 61.5, "type": "quantitative", "axis": null}, "y2": {"datum": 65.4}}},
    {"data": {"values": [{}]}, "mark": {"type": "circle", "color": "#000000", "opacity": 1, "size": 130},
     "encoding": {"x": {"datum": 64.98, "type": "quantitative", "axis": null}, "y": {"datum": 63.6, "type": "quantitative", "axis": null}}},
    {"data": {"values": [{}]}, "mark": {"type": "rect", "fill": "#a9b9c4", "stroke": "#6e8fd8", "strokeWidth": 2.5, "cornerRadius": 2},
     "encoding": {"x": {"datum": 56.4, "type": "quantitative", "axis": null}, "x2": {"datum": 73.3}, "y": {"datum": 54.32, "type": "quantitative", "axis": null}, "y2": {"datum": 59.17}}},
    {"data": {"values": [{}]}, "mark": {"type": "rect", "stroke": "#e0585c", "strokeWidth": 2.5, "strokeDash": [6, 4], "fill": {"gradient": "linear", "x1": 0, "y1": 1, "x2": 1.17, "y2": 0.26, "stops": [
{"offset":0,"color":"rgba(222,92,92,0.7)"},{"offset":0.03125,"color":"rgba(222,92,92,0)"},
{"offset":0.0625,"color":"rgba(222,92,92,0.7)"},{"offset":0.09375,"color":"rgba(222,92,92,0)"},
{"offset":0.125,"color":"rgba(222,92,92,0.7)"},{"offset":0.15625,"color":"rgba(222,92,92,0)"},
{"offset":0.1875,"color":"rgba(222,92,92,0.7)"},{"offset":0.21875,"color":"rgba(222,92,92,0)"},
{"offset":0.25,"color":"rgba(222,92,92,0.7)"},{"offset":0.28125,"color":"rgba(222,92,92,0)"},
{"offset":0.3125,"color":"rgba(222,92,92,0.7)"},{"offset":0.34375,"color":"rgba(222,92,92,0)"},
{"offset":0.375,"color":"rgba(222,92,92,0.7)"},{"offset":0.40625,"color":"rgba(222,92,92,0)"},
{"offset":0.4375,"color":"rgba(222,92,92,0.7)"},{"offset":0.46875,"color":"rgba(222,92,92,0)"},
{"offset":0.5,"color":"rgba(222,92,92,0.7)"},{"offset":0.53125,"color":"rgba(222,92,92,0)"},
{"offset":0.5625,"color":"rgba(222,92,92,0.7)"},{"offset":0.59375,"color":"rgba(222,92,92,0)"},
{"offset":0.625,"color":"rgba(222,92,92,0.7)"},{"offset":0.65625,"color":"rgba(222,92,92,0)"},
{"offset":0.6875,"color":"rgba(222,92,92,0.7)"},{"offset":0.71875,"color":"rgba(222,92,92,0)"},
{"offset":0.75,"color":"rgba(222,92,92,0.7)"},{"offset":0.78125,"color":"rgba(222,92,92,0)"},
{"offset":0.8125,"color":"rgba(222,92,92,0.7)"},{"offset":0.84375,"color":"rgba(222,92,92,0)"},
{"offset":0.875,"color":"rgba(222,92,92,0.7)"},{"offset":0.90625,"color":"rgba(222,92,92,0)"},
{"offset":0.9375,"color":"rgba(222,92,92,0.7)"},{"offset":0.96875,"color":"rgba(222,92,92,0)"},
{"offset":1,"color":"rgba(222,92,92,0.7)"}]}},
     "encoding": {"x": {"datum": 56.4, "type": "quantitative", "axis": null}, "x2": {"datum": 73.3}, "y": {"datum": 47.19, "type": "quantitative", "axis": null}, "y2": {"datum": 52.32}}},
    {"data": {"values": [{}]}, "mark": {"type": "text", "text": "Data", "fontSize": 19, "fontWeight": "bold", "align": "left", "baseline": "middle"},
     "encoding": {"x": {"datum": 76.63, "type": "quantitative", "axis": null}, "y": {"datum": 63.6, "type": "quantitative", "axis": null}}},
    {"data": {"values": [{}]}, "mark": {"type": "text", "text": "H→J/ψγ signal×750", "fontSize": 19, "fontWeight": "bold", "align": "left", "baseline": "middle"},
     "encoding": {"x": {"datum": 76.63, "type": "quantitative", "axis": null}, "y": {"datum": 56.74, "type": "quantitative", "axis": null}}},
    {"data": {"values": [{}]}, "mark": {"type": "text", "text": "H→γ*γ background×150", "fontSize": 19, "fontWeight": "bold", "align": "left", "baseline": "middle"},
     "encoding": {"x": {"datum": 76.63, "type": "quantitative", "axis": null}, "y": {"datum": 49.76, "type": "quantitative", "axis": null}}},
    {"data": {"values": [{}]}, "mark": {"type": "text", "text": "Simulated events of non-resonant", "font": "Roboto", "fontSize": 20, "fontWeight": 500, "color": "#555c68", "align": "left", "baseline": "middle"},
     "encoding": {"x": {"datum": 60.38, "type": "quantitative", "axis": null}, "y": {"datum": 41.77, "type": "quantitative", "axis": null}}},
    {"data": {"values": [{}]}, "mark": {"type": "text", "text": "backgrounds are not overlaid", "font": "Roboto", "fontSize": 20, "fontWeight": 500, "color": "#555c68", "align": "left", "baseline": "middle"},
     "encoding": {"x": {"datum": 60.38, "type": "quantitative", "axis": null}, "y": {"datum": 36.93, "type": "quantitative", "axis": null}}}
  ]
}
]
}
